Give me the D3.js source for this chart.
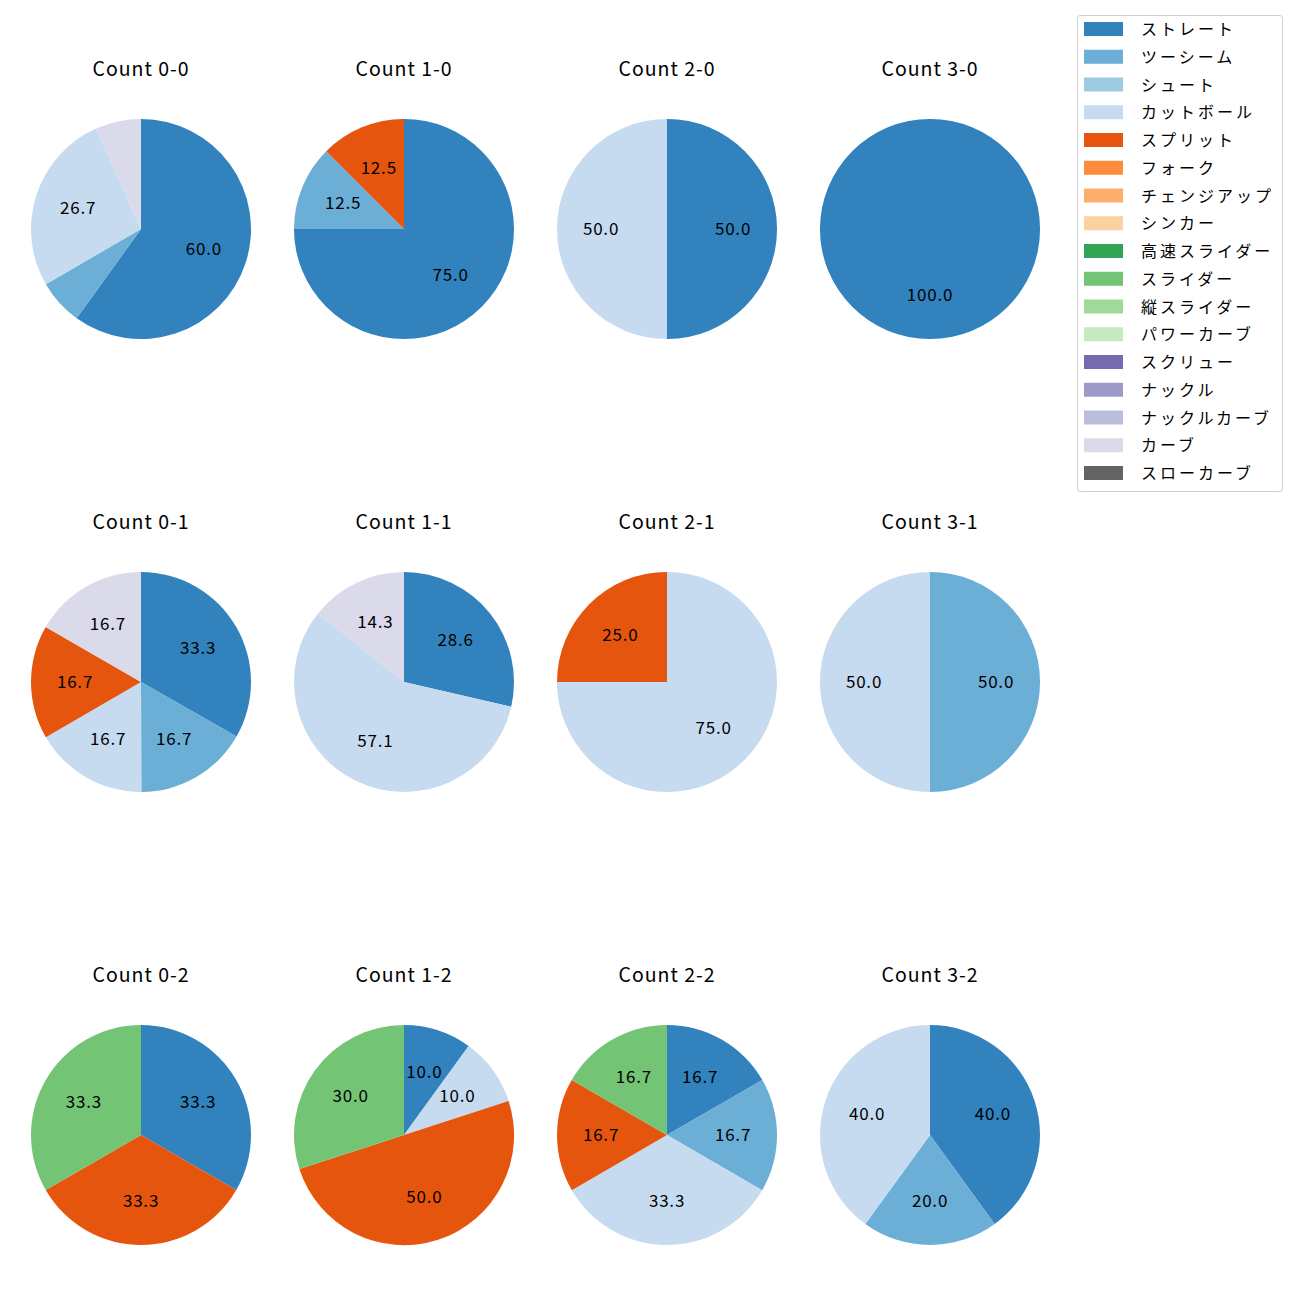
<!DOCTYPE html>
<html><head><meta charset="utf-8">
<script src="https://cdn.jsdelivr.net/npm/d3@7"></script>
<style>body{margin:0;background:#fff}svg{display:block}text{font-family:"Noto Sans CJK JP","Noto Sans",sans-serif}</style>
</head><body>
<script>
const pitchTypes = ["ストレート","ツーシーム","シュート","カットボール","スプリット","フォーク","チェンジアップ","シンカー","高速スライダー","スライダー","縦スライダー","パワーカーブ","スクリュー","ナックル","ナックルカーブ","カーブ","スローカーブ"];
const colors = ["#3182bd","#6baed6","#9ecae1","#c6dbef","#e6550d","#fd8d3c","#fdae6b","#fdd0a2","#31a354","#74c476","#a1d99b","#c7e9c0","#756bb1","#9e9ac8","#bcbddc","#dadaeb","#636363"];
const titles = ["Count 0-0","Count 1-0","Count 2-0","Count 3-0","Count 0-1","Count 1-1","Count 2-1","Count 3-1","Count 0-2","Count 1-2","Count 2-2","Count 3-2"];
// values per pitch type (percent)
const count00 = {"ストレート":60.0,"ツーシーム":6.7,"カットボール":26.7,"カーブ":6.7};
const count10 = {"ストレート":75.0,"ツーシーム":12.5,"スプリット":12.5};
const count20 = {"ストレート":50.0,"カットボール":50.0};
const count30 = {"ストレート":100.0};
const count01 = {"ストレート":33.3,"ツーシーム":16.7,"カットボール":16.7,"スプリット":16.7,"カーブ":16.7};
const count11 = {"ストレート":28.6,"カットボール":57.1,"カーブ":14.3};
const count21 = {"カットボール":75.0,"スプリット":25.0};
const count31 = {"ツーシーム":50.0,"カットボール":50.0};
const count02 = {"ストレート":33.3,"スプリット":33.3,"スライダー":33.3};
const count12 = {"ストレート":10.0,"カットボール":10.0,"スプリット":50.0,"スライダー":30.0};
const count22 = {"ストレート":16.7,"ツーシーム":16.7,"カットボール":33.3,"スプリット":16.7,"スライダー":16.7};
const count32 = {"ストレート":40.0,"ツーシーム":20.0,"カットボール":40.0};
const pieData = [count00,count10,count20,count30,count01,count11,count21,count31,count02,count12,count22,count32];

const W = 1300, H = 1300;
const svg = d3.select("body").append("svg").attr("width", W).attr("height", H);
const colX = d3.scalePoint().domain([0,1,2,3]).range([141, 930]);
const rowY = d3.scalePoint().domain([0,1,2]).range([229, 1135]);
const R = 110;
const color = d3.scaleOrdinal().domain(pitchTypes).range(colors);
const pie = d3.pie().sort(null).value(d => d.v);
const arc = d3.arc().innerRadius(0).outerRadius(R);
const labelArc = d3.arc().innerRadius(R*0.6).outerRadius(R*0.6);

pieData.forEach((obj, i) => {
  const cx = colX(i % 4), cy = rowY(Math.floor(i / 4));
  const entries = pitchTypes.filter(p => obj[p] !== undefined).map(p => ({p, v: obj[p]}));
  const g = svg.append("g").attr("transform", `translate(${cx},${cy})`);
  const arcs = pie(entries);
  g.selectAll("path").data(arcs).join("path").attr("d", arc).attr("fill", d => color(d.data.p));
  g.selectAll("text.lbl").data(arcs.filter(d => d.data.v >= 10)).join("text").attr("class","lbl")
    .attr("transform", d => { const c = labelArc.centroid(d); return `translate(${c[0]},${c[1] - 2})`; })
    .attr("text-anchor","middle").attr("dominant-baseline","central")
    .attr("font-size", 17).attr("letter-spacing", 0.8).attr("fill","#000")
    .text(d => d.data.v.toFixed(1));
  svg.append("text").attr("x", cx).attr("y", cy - 162).attr("text-anchor","middle")
    .attr("dominant-baseline","central").attr("font-size", 19.5).attr("letter-spacing", 1).attr("fill","#000").text(titles[i]);
});

// legend
const lg = svg.append("g");
lg.append("rect").attr("x",1077.5).attr("y",15.5).attr("width",205).attr("height",476).attr("rx",3)
  .attr("fill","#fff").attr("stroke","#d0d0d0");
const ly = d3.scaleLinear().domain([0,16]).range([29, 473]);
pitchTypes.forEach((p, k) => {
  lg.append("rect").attr("x",1084).attr("y",ly(k)-7).attr("width",39).attr("height",14).attr("fill",color(p));
  lg.append("text").attr("x",1141).attr("y",ly(k) - 1).attr("dominant-baseline","central")
    .attr("font-size",16).attr("letter-spacing",3).attr("fill","#000").text(p);
});
</script>
</body></html>
